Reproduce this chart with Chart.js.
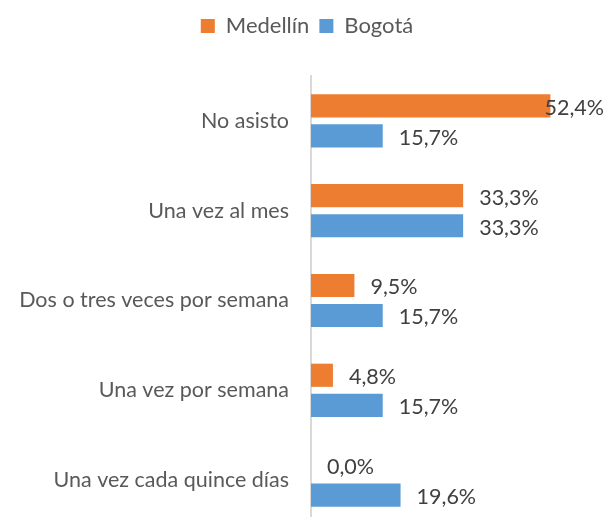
<!DOCTYPE html>
<html>
<head>
<meta charset="utf-8">
<script src="https://cdn.jsdelivr.net/npm/chart.js@4"></script>
<style>
  html, body { margin: 0; padding: 0; background: #fff; overflow: hidden; }
  #wrap { width: 608px; height: 517px; overflow: hidden; }
  #box { position: relative; width: 608px; height: 530px; }
</style>
</head>
<body>
<div id="wrap"><div id="box"><canvas id="freq_chart"></canvas></div></div>
<script>
var categories = ['No asisto', 'Una vez al mes', 'Dos o tres veces por semana', 'Una vez por semana', 'Una vez cada quince días'];
var medellin = [52.4, 33.3, 9.5, 4.8, 0.0];
var bogota = [15.7, 33.3, 15.7, 15.7, 19.6];
var seriesNames = ['Medellín', 'Bogotá'];

const FONT = 'Lato, "Open Sans", sans-serif';

// value labels next to each bar, pushed back inside the canvas if too wide
const barLabels = {
  id: 'barLabels',
  afterDatasetsDraw(chart) {
    const ctx = chart.ctx;
    ctx.save();
    ctx.font = '21.5px ' + FONT;
    ctx.fillStyle = '#404040';
    ctx.textBaseline = 'middle';
    ctx.textAlign = 'left';
    chart.data.datasets.forEach(function(ds, i) {
      chart.getDatasetMeta(i).data.forEach(function(bar, j) {
        var txt = ds.data[j].toFixed(1).replace('.', ',') + '%';
        var w = ctx.measureText(txt).width;
        var x = Math.min(bar.x + 16, chart.width - w - 4);
        ctx.fillText(txt, x, bar.y + 2);
      });
    });
    ctx.restore();
  }
};

// extra room under the legend
const legendSpace = {
  id: 'legendSpace',
  beforeInit(chart) {
    const fit = chart.legend.fit;
    chart.legend.fit = function() {
      fit.bind(chart.legend)();
      this.height += 29;
    };
  }
};

const freq_chart = document.querySelector('#freq_chart').getContext('2d');

let chart = new Chart(freq_chart, {
  type: 'bar',
  data: {
    labels: categories,
    datasets: [{
      label: seriesNames[0],
      data: medellin,
      backgroundColor: '#ED7D31',
      categoryPercentage: 0.67,
      barPercentage: 0.77
    }, {
      label: seriesNames[1],
      data: bogota,
      backgroundColor: '#5B9BD5',
      categoryPercentage: 0.67,
      barPercentage: 0.77
    }]
  },
  options: {
    indexAxis: 'y',
    responsive: true,
    maintainAspectRatio: false,
    animation: false,
    layout: { padding: { left: 6, right: 0, top: 5, bottom: 5 } },
    plugins: {
      legend: {
        position: 'top',
        labels: {
          boxWidth: 14,
          boxHeight: 14,
          padding: 10,
          color: '#595959',
          font: { family: FONT, size: 22 }
        }
      },
      tooltip: { enabled: false }
    },
    scales: {
      x: {
        display: false,
        min: 0,
        max: 65
      },
      y: {
        afterFit: function(scale) {
          scale.width = 305;
          scale.paddingTop = 0;
          scale.paddingBottom = 0;
        },
        grid: { display: false },
        border: { display: true, color: '#D9D9D9', width: 2 },
        ticks: {
          padding: 14,
          color: '#595959',
          font: { family: FONT, size: 21.5 }
        }
      }
    }
  },
  plugins: [barLabels, legendSpace]
});
</script>
</body>
</html>
